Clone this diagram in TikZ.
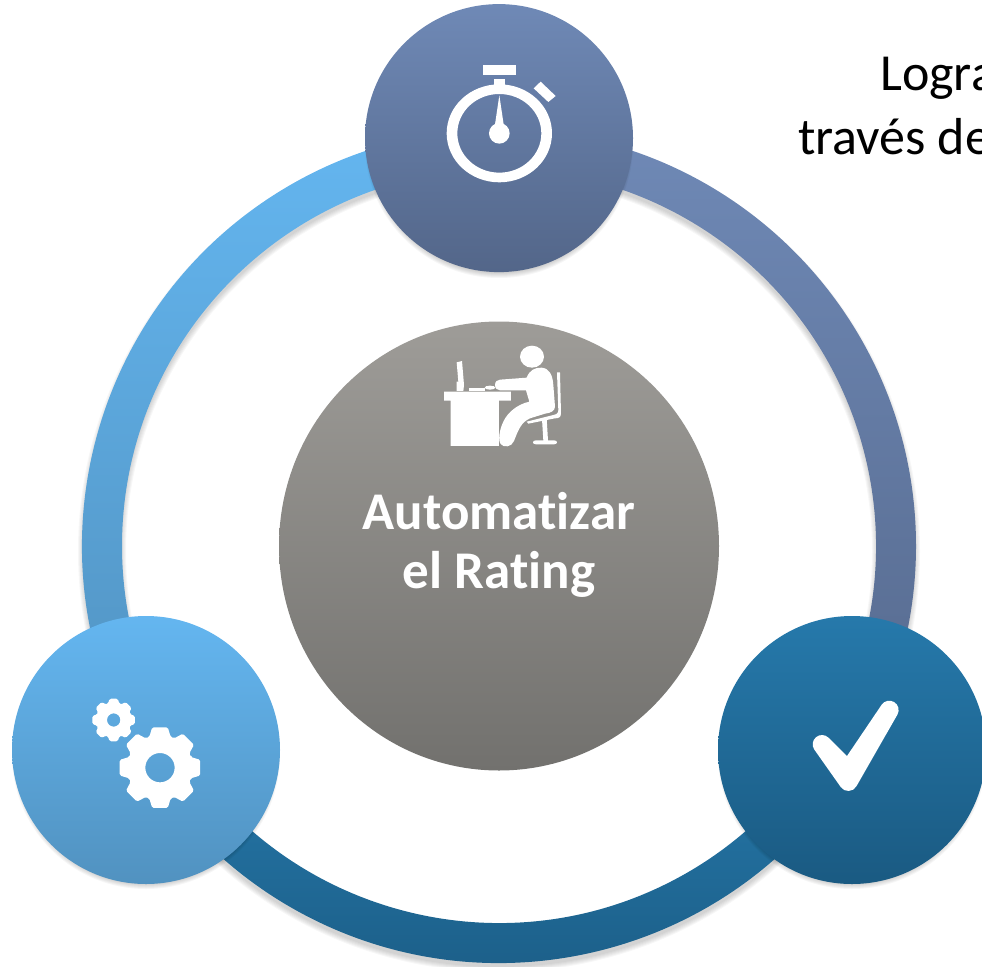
\documentclass[tikz,border=0pt]{standalone}
\usepackage{fontspec}
\setmainfont{Carlito}[Ligatures=NoCommon]
\usetikzlibrary{positioning,shapes.geometric,calc}
\definecolor{timertop}{HTML}{6F89B6}
\definecolor{timerbot}{HTML}{536689}
\definecolor{gearstop}{HTML}{64B6F0}
\definecolor{gearsbot}{HTML}{5192C0}
\definecolor{checktop}{HTML}{2679AB}
\definecolor{checkbot}{HTML}{1A5A82}
\definecolor{hubtop}{HTML}{9E9C98}
\definecolor{hubbot}{HTML}{72716E}
% one cog: centre, tip radius, root radius, hole radius
\newcommand{\cogicon}[4]{
  \fill[white,even odd rule,rounded corners=1.5pt] (#1) ++(-19:#3)
    \foreach \a in {0,45,...,315} {
      -- ($(#1)+(\a-19:#3)$) -- ($(#1)+(\a-11:#2)$) -- ($(#1)+(\a+11:#2)$) -- ($(#1)+(\a+19:#3)$)
    } -- cycle
    (#1) circle [radius=#4];
}
% soft shadow under a round badge
\newcommand{\badgeshadow}[2]{
  \foreach \k in {0,...,5}
    \fill[black,opacity=.035] (#1,#2+5) circle [radius=129+\k];
}
\begin{document}
\begin{tikzpicture}[%
        x=1pt, y=-1pt,
        every node/.style={inner sep=0pt},
        badge/.style={circle, minimum size=268pt},
        goaltext/.style={font=\fontsize{52}{64}\selectfont, text=black, anchor=base west},
        hubtext/.style={font=\fontsize{53}{59}\selectfont\bfseries, text=white, align=center}
      ]
      \useasboundingbox (0,0) rectangle (982,966);
      % ring, three arcs
      \begin{scope}[shift={(499,546)}]
        \foreach \k in {0,...,5} {
          \draw[black,opacity=.03,line width={38+2*\k}] (0,5) circle [radius=397];
        }
        \shade[top color=timertop, bottom color=timerbot!90!timertop]
          (-90:417) arc [start angle=-90, end angle=30, radius=417]
          -- (30:377) arc [start angle=30, end angle=-90, radius=377] -- cycle;
        \shade[top color=checktop, bottom color=checkbot]
          (30:417) arc [start angle=30, end angle=150, radius=417]
          -- (150:377) arc [start angle=150, end angle=30, radius=377] -- cycle;
        \shade[top color=gearstop, bottom color=gearsbot]
          (150:417) arc [start angle=150, end angle=270, radius=417]
          -- (270:377) arc [start angle=270, end angle=150, radius=377] -- cycle;
      \end{scope}
      % badges
      \badgeshadow{499}{139}
      \badgeshadow{146}{750}
      \badgeshadow{852}{750}
      \node [ellipse, minimum width=440pt, minimum height=449pt, top color=hubtop, bottom color=hubbot] (hub) at (499,546) {};
      \node [badge, top color=timertop, bottom color=timerbot, above=49pt of hub] (timer) {};
      \node [badge, top color=gearstop, bottom color=gearsbot] (gears) at (146,750) {};
      \node [badge, top color=checktop, bottom color=checkbot] (check) at (852,750) {};
      % texts
      \node [hubtext] (hubtitle) at (499,545) {Automatizar\\el Rating};
      \node [goaltext] (goalone) at (880,90) {Logra};
      \node [goaltext] (goaltwo) at (798,154) {través de};
      % stopwatch
      \begin{scope}[shift={(420,40)}, x=.3333pt, y=-.3333pt]
        \fill[white, even odd rule] (238,280) ellipse [x radius=158, y radius=147] (238,280) ellipse [x radius=126, y radius=118];
        \fill[white] (190,75) rectangle (287,104);
        \fill[white] (222,118) rectangle (254,140);
        \fill[white] (362,125) -- (407,168) -- (385,186) -- (341,145) -- cycle;
        \fill[white] (238,280) circle [radius=31];
        \fill[white] (238,166) -- (252,260) -- (224,260) -- cycle;
      \end{scope}
      % person at desk
      \begin{scope}[shift={(430,335)}, x=.3333pt, y=-.3333pt]
        \fill[white] (306,65) ellipse [x radius=36, y radius=33];
        \fill[white] (42,170) -- (243,170) -- (243,197) -- (207,197) -- (207,333) -- (62,333) -- (62,197) -- (42,197) -- cycle;
        \fill[white] (80,82) -- (96,78) -- (102,150) -- (100,168) -- (80,168) -- (80,140) -- (85,140) -- cycle;
        \fill[white] (118,160) rectangle (165,167);
        \fill[white] (180,158) ellipse [x radius=16, y radius=6];
        \fill[white] (195,150) .. controls (195,140) and (202,134) .. (210,134)
          -- (290,128) .. controls (298,106) and (315,97) .. (335,98)
          .. controls (358,100) and (368,120) .. (370,150)
          -- (375,215) .. controls (375,228) and (362,234) .. (345,236)
          -- (300,250) .. controls (274,262) and (266,282) .. (252,318)
          .. controls (245,337) and (220,338) .. (213,328)
          .. controls (203,318) and (208,285) .. (220,260)
          .. controls (233,232) and (262,208) .. (298,200)
          -- (288,166) -- (210,166) .. controls (202,166) and (195,160) .. (195,150) -- cycle;
        \fill[white] (381,112) -- (390,112) -- (393,235) .. controls (393,248) and (385,250) .. (375,250)
          -- (295,266) -- (290,260) -- (370,240) .. controls (380,238) and (385,235) .. (385,225) -- cycle;
        \fill[white] (336,252) -- (350,250) -- (354,316) -- (372,316) .. controls (384,316) and (384,328) .. (372,328)
          -- (318,328) .. controls (306,328) and (306,316) .. (318,316) -- (340,316) -- cycle;
      \end{scope}
      % cogs
      \begin{scope}[shift={(70,680)}, x=.3333pt, y=-.3333pt]
        \cogicon{270,263}{123}{98}{44}
        \cogicon{131,120}{65}{52}{20}
      \end{scope}
      % tick
      \begin{scope}[shift={(780,680)}, x=.3333pt, y=-.3333pt]
        \filldraw[white, line width=18.6pt, line join=round] (126,193) -- (205,272) -- (328,90) -- (205,305) -- cycle;
      \end{scope}
     \end{tikzpicture}
\end{document}
